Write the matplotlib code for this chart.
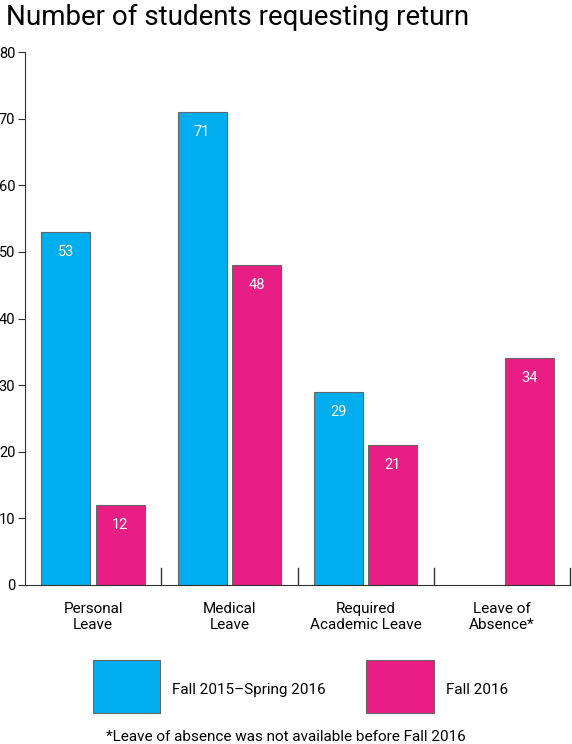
import matplotlib
matplotlib.use('Agg')
import matplotlib.pyplot as plt
from matplotlib.patches import Rectangle
import numpy as np

plt.rcParams['font.family'] = ['Roboto', 'DejaVu Sans']

categories = ['Personal\nLeave', 'Medical\nLeave', 'Required\nAcademic Leave', 'Leave of\nAbsence*']
fall15 = [53, 71, 29, None]
fall16 = [12, 48, 21, 34]
blue = '#00aeef'
pink = '#e91e84'

fig = plt.figure(figsize=(5.72, 7.44), dpi=100)
ax = fig.add_axes([25/572, 1-585/744, 545/572, 533/744])

x = np.arange(len(categories)) + 0.5
w = 0.36
for i, (a, b) in enumerate(zip(fall15, fall16)):
    if a is not None:
        ax.bar(x[i] - w/2 - 0.02, a, w, color=blue, edgecolor='#666666', linewidth=0.8)
        ax.text(x[i] - w/2 - 0.02, a - 3, str(a), color='white', ha='center', va='center', fontsize=10.5)
    ax.bar(x[i] + w/2 + 0.02, b, w, color=pink, edgecolor='#666666', linewidth=0.8)
    ax.text(x[i] + w/2 + 0.02, b - 3, str(b), color='white', ha='center', va='center', fontsize=10.5)

ax.set_xlim(0, 4)
ax.set_ylim(0, 80)
ax.set_yticks(range(0, 81, 10))
ax.tick_params(axis='y', direction='out', length=5, pad=2, labelsize=10.5, color='#333333')
ax.spines['top'].set_visible(False)
ax.spines['right'].set_visible(False)
for s in ('left', 'bottom'):
    ax.spines[s].set_color('#333333')
ax.set_xticks(x)
ax.set_xticklabels(categories, fontsize=11, linespacing=1.2)
ax.tick_params(axis='x', length=0, pad=12)
for b in range(1, 5):
    ax.plot([b, b], [0, 2.5], color='#333333', lw=1, clip_on=False)

fig.text(0.01, 0.977, 'Number of students requesting return', fontsize=20, va='center', ha='left')

fig.patches.append(Rectangle((93/572, 1-713/744), 67/572, 53/744, transform=fig.transFigure,
                             facecolor=blue, edgecolor='#666666', lw=0.8))
fig.patches.append(Rectangle((366/572, 1-713/744), 68/572, 53/744, transform=fig.transFigure,
                             facecolor=pink, edgecolor='#666666', lw=0.8))
fig.text(172/572, 1-690/744, 'Fall 2015\u2013Spring 2016', fontsize=11, va='center')
fig.text(446/572, 1-690/744, 'Fall 2016', fontsize=11, va='center')
fig.text(0.5, 1-737/744, '*Leave of absence was not available before Fall 2016', fontsize=11,
         ha='center', va='center')

fig.savefig('out.png', dpi=100)
